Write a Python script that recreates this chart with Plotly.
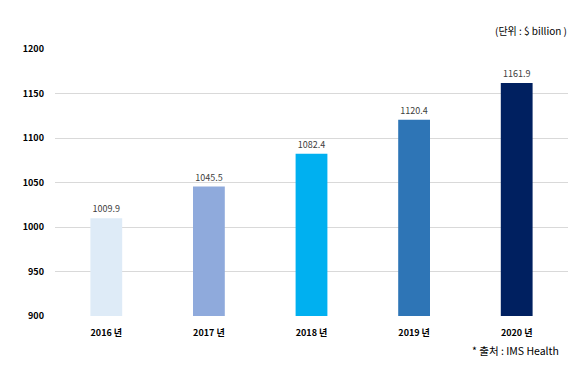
import plotly.graph_objects as go

categories = ["2016 년", "2017 년", "2018 년", "2019 년", "2020 년"]
values = [1009.9, 1045.5, 1082.4, 1120.4, 1161.9]
colors = ["#DEEBF7", "#8FAADC", "#00B0F0", "#2E75B6", "#002060"]
y_ticks = [900, 950, 1000, 1050, 1100, 1150, 1200]

FONT = "Noto Sans CJK KR, Liberation Sans, sans-serif"

fig = go.Figure(go.Bar(
    x=categories,
    y=values,
    marker=dict(color=colors, line=dict(width=0)),
    width=0.31,
    text=[f"{v:.1f}" for v in values],
    textposition="outside",
    textfont=dict(size=9, color="#404040", family=FONT),
    cliponaxis=False,
))

fig.update_layout(
    width=588, height=372,
    margin=dict(l=55, r=20, t=49, b=56),
    plot_bgcolor="white", paper_bgcolor="white",
    font=dict(family=FONT, size=9, color="#000000"),
    showlegend=False,
    bargap=0.69,
    xaxis=dict(
        showgrid=False, showline=False, ticks="",
        tickfont=dict(size=9, color="#000000", family=FONT, weight="bold"),
        ticklabelstandoff=10,
    ),
    yaxis=dict(
        range=[900, 1200], tickvals=y_ticks,
        showgrid=True, gridcolor="#D9D9D9", gridwidth=1,
        zeroline=False, showline=False, ticks="",
        tickfont=dict(size=9, color="#000000", family=FONT, weight="bold"),
        ticklabelstandoff=10,
    ),
    annotations=[
        dict(text="(단위 : $ billion )", x=569, y=30, xref="paper", yref="paper",
             showarrow=False, font=dict(size=10, color="#000000", family=FONT),
             xanchor="right", yanchor="middle"),
        dict(text="* 출처 : IMS Health", x=561, y=350, xref="paper", yref="paper",
             showarrow=False, font=dict(size=10.5, color="#000000", family=FONT),
             xanchor="right", yanchor="middle"),
    ],
)

# convert pixel annotation positions to paper coords
pw, ph = 588 - 55 - 20, 372 - 49 - 56
for a in fig.layout.annotations:
    px, py = a.x, a.y
    a.x = (px - 55) / pw
    a.y = 1 - (py - 49) / ph

fig.write_html("out.html", config={"displayModeBar": False})

# remove default body margin so the figure sits at the window origin
with open("out.html", "r", encoding="utf-8") as f:
    html = f.read()
html = html.replace("<head>", "<head><style>html,body{margin:0;padding:0;overflow:hidden;}</style>", 1)
with open("out.html", "w", encoding="utf-8") as f:
    f.write(html)
